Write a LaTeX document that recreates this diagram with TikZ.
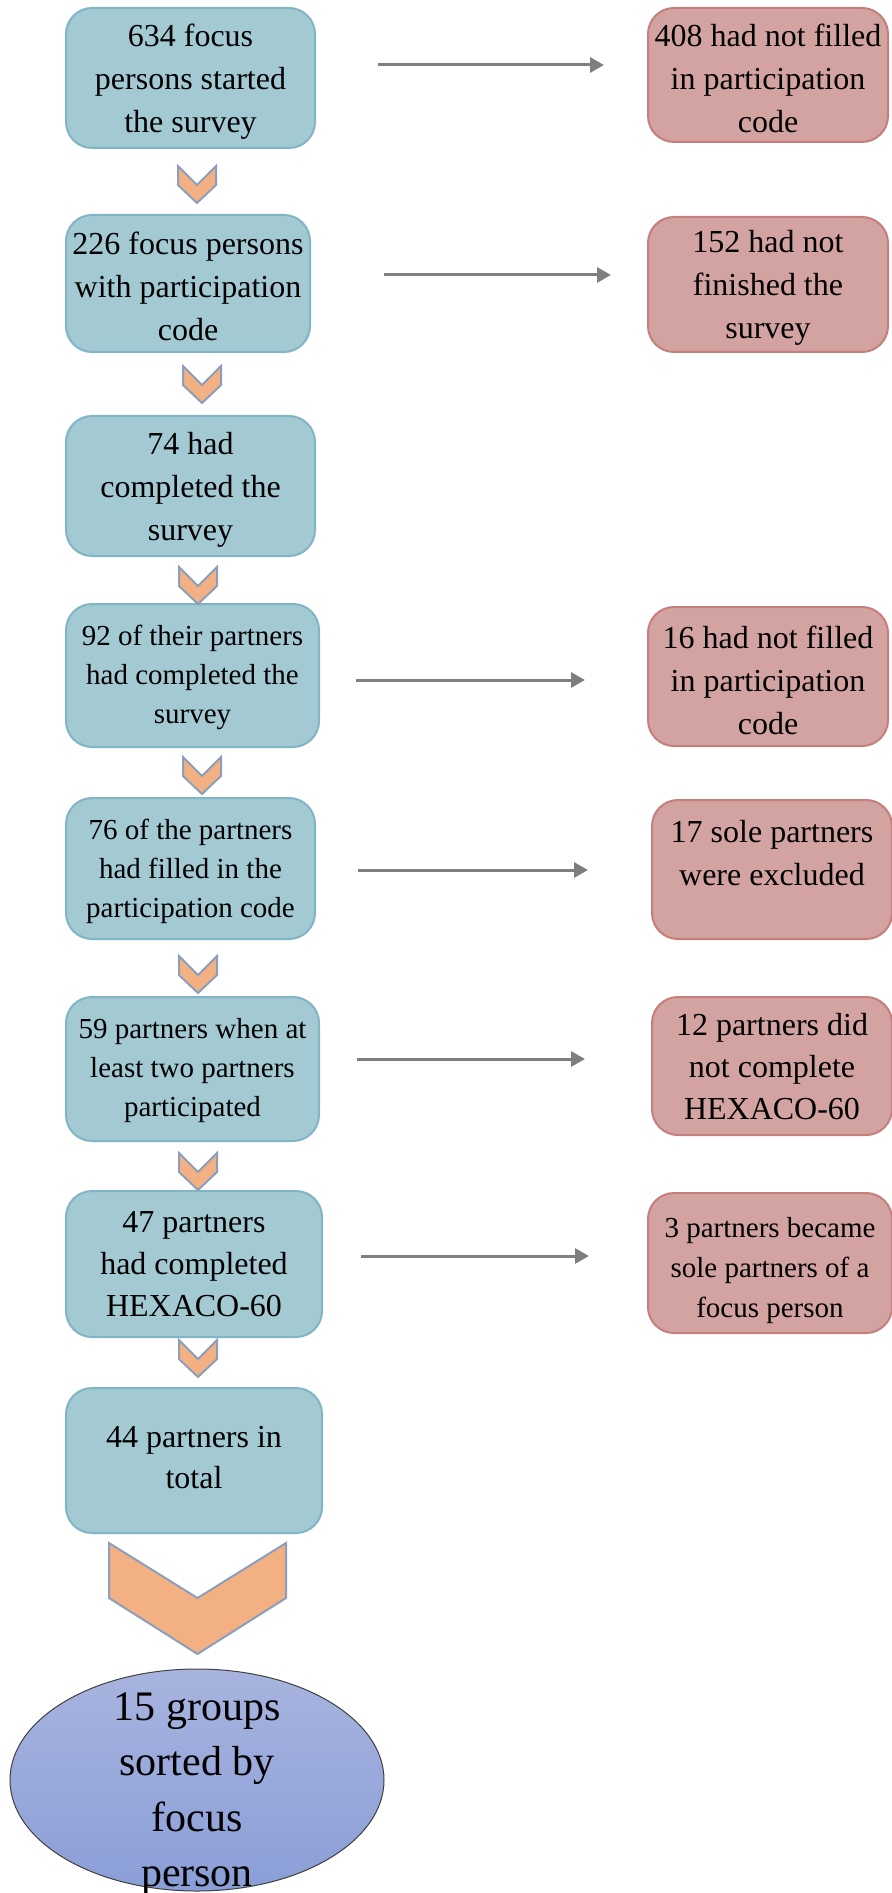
\documentclass[tikz,border=0pt]{standalone}
\usepackage{fontspec}
\setmainfont{Liberation Serif}
\usetikzlibrary{shapes.geometric,arrows.meta}
\definecolor{boxblue}{HTML}{A3C9D3}
\definecolor{blueline}{HTML}{7FB5C6}
\definecolor{dropred}{HTML}{D3A3A2}
\definecolor{redline}{HTML}{C47E7B}
\definecolor{chevfill}{HTML}{F3B183}
\definecolor{chevline}{HTML}{8C9EBB}
\definecolor{arrgray}{HTML}{7F7F7F}
\definecolor{elltop}{HTML}{A8B4DF}
\definecolor{ellbot}{HTML}{8A9ED7}

\begin{document}
\begin{tikzpicture}[x=0.5pt,y=-0.5pt,
  flow/.style={draw=blueline, fill=boxblue, line width=1pt, rounded corners=13pt,
    inner sep=0pt, align=center, font=\fontsize{16}{21.5}\selectfont, text depth=0pt},
  drop/.style={flow, draw=redline, fill=dropred},
  small/.style={font=\fontsize{14.5}{19.5}\selectfont},
  chev/.style={draw=chevline, fill=chevfill, line width=1pt},
  arr/.style={draw=arrgray, line width=1.5pt, -{Triangle[length=7pt,width=7.5pt]}}]
  \useasboundingbox (0,0) rectangle (892,1893);

  % left column
  \node[flow, minimum width=124.5pt, minimum height=70pt] (started) at (190.5,78) {634 focus\\persons started\\the survey};
  \node[flow, minimum width=122pt, minimum height=68.5pt, text height=57.5pt] (code) at (188,283.5) {226 focus persons\\with participation\\code};
  \node[flow, minimum width=124.5pt, minimum height=70pt] (completed) at (190.5,486) {74 had\\completed the\\survey};
  \node[flow, small, minimum width=126.5pt, minimum height=71.5pt, text depth=1.6pt] (partners) at (192.5,675.5) {92 of their partners\\had completed the\\survey};
  \node[flow, small, minimum width=124.5pt, minimum height=70.5pt] (filled) at (190.5,868.5) {76 of the partners\\had filled in the\\participation code};
  \node[flow, small, minimum width=126.5pt, minimum height=72pt, text depth=1.6pt] (twoplus) at (192.5,1069) {59 partners when at\\least two partners\\participated};
  \node[flow, minimum width=128pt, minimum height=73pt, font=\fontsize{16}{21}\selectfont] (hexaco) at (194,1264) {47 partners\\had completed\\HEXACO-60};
  \node[flow, minimum width=128pt, minimum height=72.5pt, font=\fontsize{16}{20.5}\selectfont, text depth=2.8pt] (total) at (194,1460.5) {44 partners in\\total};

  % right column
  \node[drop, minimum width=120pt, minimum height=67pt, text height=57.5pt] (nocode) at (768,75) {408 had not filled\\in participation\\code};
  \node[drop, minimum width=120pt, minimum height=67.5pt] (unfinished) at (768,284.5) {152 had not\\finished the\\survey};
  \node[drop, minimum width=120pt, minimum height=69.5pt, text height=57.5pt] (pnocode) at (768,676.5) {16 had not filled\\in participation\\code};
  \node[drop, minimum width=120pt, minimum height=69.5pt, text height=58.7pt] (sole) at (772,869.5) {17 sole partners\\were excluded\\\strut};
  \node[drop, minimum width=120pt, minimum height=69pt, font=\fontsize{16}{21}\selectfont] (nohexaco) at (772,1066) {12 partners did\\not complete\\HEXACO-60};
  \node[drop, small, minimum width=122pt, minimum height=70pt, font=\fontsize{14.5}{20}\selectfont, text height=54.1pt] (becamesole) at (770,1263) {3 partners became\\sole partners of a\\focus person};

  \coordinate (a1s) at (378,65);   \coordinate (a1e) at (604,65);
  \coordinate (a2s) at (384,275);  \coordinate (a2e) at (611,275);
  \coordinate (a4s) at (356,680);  \coordinate (a4e) at (585,680);
  \coordinate (a5s) at (358,870);  \coordinate (a5e) at (588,870);
  \coordinate (a6s) at (357,1059); \coordinate (a6e) at (585,1059);
  \coordinate (a7s) at (361,1256); \coordinate (a7e) at (589,1256);
  \draw[arr] (a1s) -- (a1e);
  \draw[arr] (a2s) -- (a2e);
  \draw[arr] (a4s) -- (a4e);
  \draw[arr] (a5s) -- (a5e);
  \draw[arr] (a6s) -- (a6e);
  \draw[arr] (a7s) -- (a7e);

  % chevrons
  \foreach \cx/\cy in {197/166, 202/366, 198/567, 202/757, 198/956, 198/1153, 198/1340}
    \draw[chev] (\cx-19,\cy) -- (\cx,\cy+19) -- (\cx+19,\cy) -- (\cx+19,\cy+19)
      -- (\cx,\cy+37) -- (\cx-19,\cy+19) -- cycle;
  \draw[chev] (109,1543) -- (197.5,1598) -- (286,1543) -- (286,1598) -- (197.5,1654) -- (109,1598) -- cycle;

  \node[ellipse, draw=black!75, line width=0.5pt, top color=elltop, bottom color=ellbot,
    minimum width=187pt, minimum height=111pt, inner sep=0pt] (groups) at (197,1780) {};
  \node[align=center, inner sep=0pt, font=\fontsize{21}{27.75}\selectfont] (groupstext) at (197,1794) {15 groups\\sorted by\\focus\\person};
\end{tikzpicture}
\end{document}
